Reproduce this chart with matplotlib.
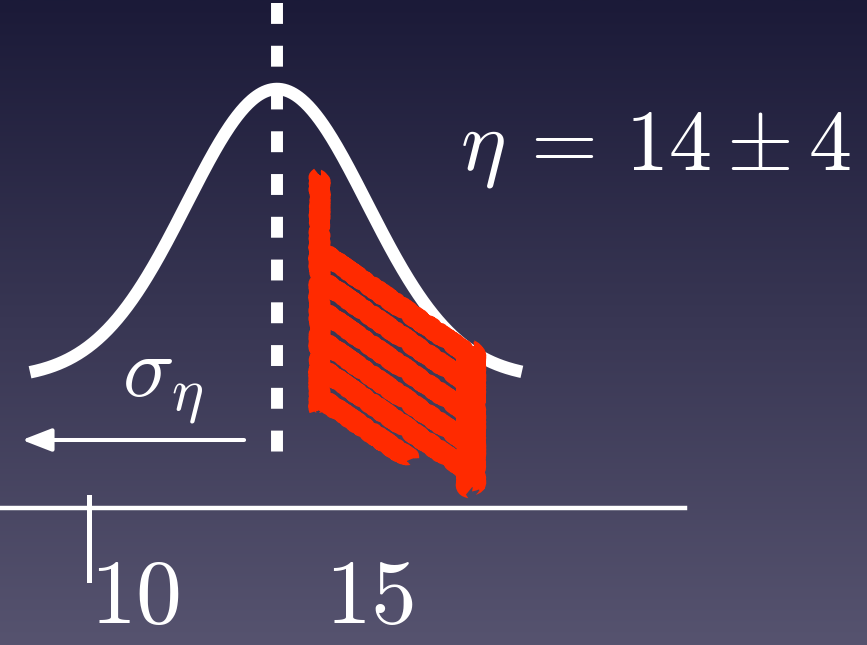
import numpy as np
import matplotlib
matplotlib.use("Agg")
import matplotlib.pyplot as plt

plt.rcParams['mathtext.fontset'] = 'cm'

# distribution of eta, drawn as a bell curve over the value axis
eta_mean = 14
eta_err = 4
curve_width = 1.915     # drawn width of the bell, axis units
curve_base = 129
curve_amp = 290
curve_lo, curve_hi = 8.745, 19.21

# value axis
axis_left, axis_right = 8.1, 22.68
tick_values = [10, 15]
tick_labels = ['$10$', '$15$']

# sigma arrow (points left from the mean)
sigma_start, sigma_end, sigma_y = 13.30, 8.574, 68

# red scribble: left post, right post and the slanted strokes between them
post_x = [14.89, 18.13]
post_top = [333, 158]
post_bot = [98, 21]
stroke_x0 = [14.98, 14.98, 14.98, 14.98, 14.98, 14.98]
stroke_y0 = [255, 226, 196, 166, 138, 108]
stroke_x1 = [18.04, 18.04, 18.04, 18.04, 18.04, 16.83]
stroke_y1 = [155, 126, 96, 66, 38, 49]

fig = plt.figure(figsize=(8.67, 6.45), dpi=100)
ax = fig.add_axes([0, 0, 1, 1])
ax.set_xlim(10 - 89 / 47, 10 + 778 / 47)
ax.set_ylim(-137, 508)
ax.axis('off')

# background gradient, dark navy at top to grey-violet at bottom
top = np.array([27, 26, 56]) / 255
bot = np.array([86, 83, 111]) / 255
t = np.linspace(0, 1, 256)[:, None]
grad = (top * (1 - t) + bot * t)[:, None, :]
ax.imshow(grad, extent=[ax.get_xlim()[0], ax.get_xlim()[1], -137, 508],
          aspect='auto', zorder=0)

# bell curve
x = np.linspace(curve_lo, curve_hi, 400)
y = curve_base + curve_amp * np.exp(-(x - eta_mean) ** 2 / (2 * curve_width ** 2))
ax.plot(x, y, color='white', lw=9, solid_capstyle='butt', zorder=3)

# dashed line at the mean
ax.plot([eta_mean, eta_mean], [505, 56], color='white', lw=8.6,
        linestyle=(0, (1.75, 1.83)), dash_capstyle='butt', zorder=3)

# red scribble, each stroke laid down twice for a rough crayon edge
red = '#ff2a00'
rough = [(12.5, (2.5, 3, 4)), (10.5, (1.5, 8, 2))]
for xi, yt, yb, w in zip(post_x, post_top, post_bot, [12, 18]):
    for dw, sk in rough:
        ln, = ax.plot([xi, xi], [yt, yb], color=red, lw=w - 12 + dw,
                      solid_capstyle='butt', zorder=4)
        ln.set_sketch_params(*sk)
for x0, y0, x1, y1 in zip(stroke_x0, stroke_y0, stroke_x1, stroke_y1):
    for dw, sk in rough:
        ln, = ax.plot([x0, x1], [y0, y1], color=red, lw=dw,
                      solid_capstyle='butt', zorder=4)
        ln.set_sketch_params(*sk)

# value axis and tick
ax.plot([axis_left, axis_right], [0, 0], color='white', lw=3.2, zorder=2)
ax.plot([tick_values[0], tick_values[0]], [11, -72], color='white', lw=3.6, zorder=2)
for v, lab in zip(tick_values, tick_labels):
    ax.annotate(lab, (v, -134), xytext=(1, 0), textcoords='offset points',
                ha='left', va='bottom', color='white', fontsize=66)

# sigma arrow and label
ax.annotate('', xy=(sigma_end, sigma_y), xytext=(sigma_start, sigma_y),
            arrowprops=dict(arrowstyle='-|>,head_length=1.8,head_width=0.7',
                            color='white', lw=2.9, shrinkA=0, shrinkB=0), zorder=3)
ax.text(10.70, 111, r'$\sigma_\eta$', color='white', fontsize=62,
        ha='left', va='baseline', zorder=3)

# result
ax.text(17.89, 338, r'$\eta \,=\, %d \pm %d$' % (eta_mean, eta_err), color='white',
        fontsize=62, ha='left', va='baseline', zorder=3)

fig.savefig('out.png', dpi=100)
